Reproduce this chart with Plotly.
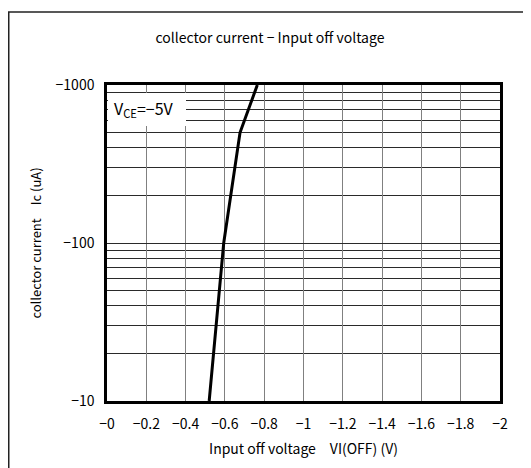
import plotly.graph_objects as go

# Data (Ic in uA, shown as negative values on the chart)
vi_off_v = [-0.52, -0.594, -0.677, -0.765]
ic_ua_mag = [10, 100, 500, 1000]

x_tickvals = [0, -0.2, -0.4, -0.6, -0.8, -1.0, -1.2, -1.4, -1.6, -1.8, -2.0]
x_ticktext = ["−0", "−0.2", "−0.4", "−0.6", "−0.8", "−1", "−1.2", "−1.4", "−1.6", "−1.8", "−2"]
y_tickvals = [10, 100, 1000]
y_ticktext = ["−10", "−100", "−1000"]
y_minorvals = [20, 30, 40, 50, 60, 70, 80, 90, 200, 300, 400, 500, 600, 700, 800, 900]

# page body has an 8px margin, so the figure is sized/offset to fit
OFF = 8
W, H = 531 - OFF, 468 - OFF
L, T = 107 - OFF, 85 - OFF
pw, ph = 393, 316
R, B = W - L - pw, H - T - ph

FONT = "Noto Sans CJK JP, Liberation Sans, sans-serif"

fig = go.Figure()
fig.add_trace(go.Scatter(
    x=vi_off_v, y=ic_ua_mag, mode="lines",
    line=dict(color="black", width=3), showlegend=False,
))

fig.update_layout(
    width=W, height=H,
    margin=dict(l=L, r=R, t=T, b=B, autoexpand=False),
    paper_bgcolor="white", plot_bgcolor="white",
    font=dict(family=FONT, size=14, color="black"),
    title=dict(text="collector current − Input off voltage", x=(270 - OFF) / W, xref="container",
               xanchor="center", y=1 - (38 - OFF) / H, yref="container", yanchor="middle",
               font=dict(size=14)),
    xaxis=dict(
        range=[0, -2], tickvals=x_tickvals, ticktext=x_ticktext,
        showgrid=True, gridcolor="#808080", gridwidth=1,
        showline=True, linecolor="black", linewidth=2.5, mirror=True,
        ticks="", zeroline=False, automargin=False, ticklabelstandoff=8,
        title=dict(text="Input off voltage\u3000VI(OFF) (V)", standoff=13, font=dict(size=14)),
        tickfont=dict(size=14),
    ),
    yaxis=dict(
        type="log", range=[1, 3], tickvals=y_tickvals, ticktext=y_ticktext,
        showgrid=True, gridcolor="#2a2a2a", gridwidth=1,
        minor=dict(tickmode="array", tickvals=y_minorvals, showgrid=True,
                   gridcolor="#2a2a2a", gridwidth=1, ticks=""),
        showline=True, linecolor="black", linewidth=2.5, mirror=True,
        ticks="", zeroline=False, automargin=False, ticklabelstandoff=7,
        title=dict(text="collector current\u3000Ic (uA)", standoff=12, font=dict(size=13)),
        tickfont=dict(size=14),
    ),
)

# white label box with VCE text
fig.add_shape(type="rect", xref="paper", yref="paper",
              x0=1 / pw, x1=79 / pw, y0=(401 - 126) / ph, y1=(401 - 93) / ph,
              fillcolor="white", line=dict(width=0), layer="above")
fig.add_annotation(xref="paper", yref="paper", x=5 / pw, y=(401 - 109) / ph,
                   xanchor="left", yanchor="middle", showarrow=False,
                   text="V<sub>CE</sub>=−5V", font=dict(size=16, family=FONT))

# outer frame around the whole chart
fig.add_shape(type="rect", xref="paper", yref="paper",
              x0=(0.75 - L) / pw, x1=(W + 20 - L) / pw,
              y0=-(H + 20 - (H - B)) / ph, y1=(H - B - 4) / ph,
              line=dict(color="#222", width=1.5), fillcolor="rgba(0,0,0,0)", layer="above")

fig.write_html("out.html")
